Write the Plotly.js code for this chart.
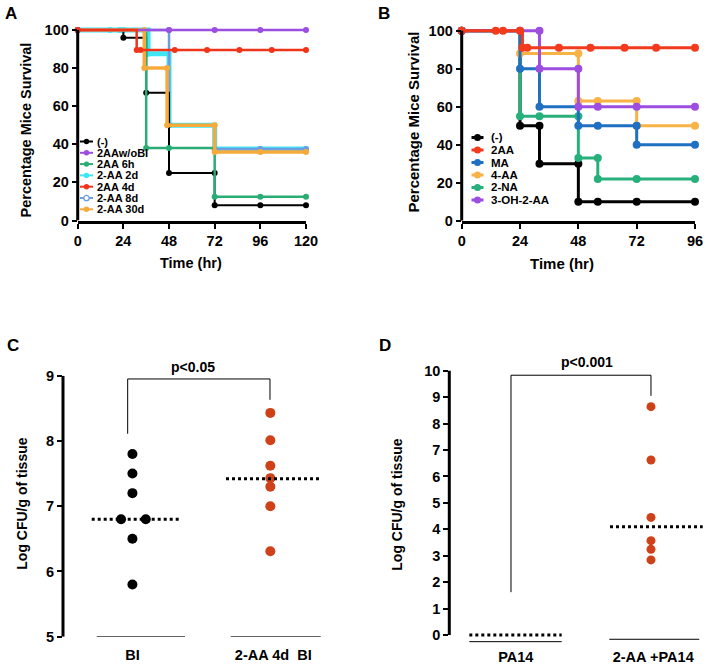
<!DOCTYPE html>
<html><head><meta charset="utf-8">
<script src="https://cdn.plot.ly/plotly-3.0.1.min.js"></script>
<style>html,body{margin:0;padding:0;background:#fff}#chart{width:709px;height:665px}</style>
</head><body><div id="chart"></div>
<script>
// ---------------- DATA ----------------
// Panel A: survival (%) vs time (hr)
const A_names = ['(-)', '2AAw/oBI', '2AA 6h', '2-AA 2d', '2AA 4d', '2-AA 8d', '2-AA 30d'];
const A_neg_t   = [0, 24, 36, 48, 72, 72, 96, 120];
const A_neg_y   = [100, 96, 67, 25, 25, 8, 8, 8];
const A_woBI_t  = [0, 48, 72, 96, 120];
const A_woBI_y  = [100, 100, 100, 100, 100];
const A_6h_t    = [0, 36, 48, 72, 96, 120];
const A_6h_y    = [100, 38, 38, 12.5, 12.5, 12.5];
const A_2d_t    = [0, 17, 22, 24, 37, 48, 72, 96, 120];
const A_2d_y    = [100, 100, 100, 100, 87.5, 50, 37.5, 37.5, 37.5];
const A_4d_t    = [0, 31, 33, 51, 68, 85, 102, 120];
const A_4d_y    = [100, 89.5, 89.5, 89.5, 89.5, 89.5, 89.5, 89.5];
const A_8d_t    = [0, 48, 48, 72, 96, 120];
const A_8d_y    = [100, 100, 50, 37.5, 37.5, 37.5];
const A_30d_t   = [0, 35, 35, 47, 47, 72, 72, 96, 120];
const A_30d_y   = [100, 100, 80, 80, 50, 50, 36, 36, 36];
const A_ticks_x = [0, 24, 48, 72, 96, 120];
const A_ticks_y = [0, 20, 40, 60, 80, 100];

// Panel B: survival (%) vs time (hr)
const B_names = ['(-)', '2AA', 'MA', '4-AA', '2-NA', '3-OH-2-AA'];
const B_neg_t  = [0, 24, 32, 32, 48, 48, 56, 72, 96];
const B_neg_y  = [100, 50, 50, 30, 30, 10, 10, 10, 10];
const B_2AA_t  = [0, 14, 17, 24, 25, 27, 40, 53, 67, 80, 96];
const B_2AA_y  = [100, 100, 100, 100, 91, 91, 91, 91, 91, 91, 91];
const B_MA_t   = [0, 24, 32, 48, 56, 72, 72, 96];
const B_MA_y   = [100, 80, 60, 50, 50, 50, 40, 40];
const B_4AA_t  = [0, 24, 48, 48, 56, 72, 72, 96];
const B_4AA_y  = [100, 88, 88, 63, 63, 63, 50, 50];
const B_2NA_t  = [0, 24, 32, 48, 48, 56, 56, 72, 96];
const B_2NA_y  = [100, 55, 55, 55, 33, 33, 22, 22, 22];
const B_3OH_t  = [0, 24, 32, 32, 48, 48, 56, 72, 96];
const B_3OH_y  = [100, 100, 100, 80, 80, 60, 60, 60, 60];
const B_ticks_x = [0, 24, 48, 72, 96];
const B_ticks_y = [0, 20, 40, 60, 80, 100];

// Panel C: Log CFU/g of tissue
const C_groups = ['BI', '2-AA 4d\u00a0 BI'];
const C_BI_vals = [7.8, 7.5, 7.2, 6.8, 6.8, 6.5, 5.8];
const C_BI_jitter = [0, 0, 0, -0.17, 0.2, 0, 0];
const C_AA_vals = [8.43, 8.01, 7.62, 7.43, 7.3, 7.0, 6.31];
const C_medians = [6.8, 7.42];
const C_ticks_y = [5, 6, 7, 8, 9];
const C_pval = 'p&lt;0.05';

// Panel D: Log CFU/g of tissue
const D_groups = ['PA14', '2-AA +PA14'];
const D_AA_vals = [8.64, 6.62, 4.45, 3.57, 3.24, 2.84];
const D_medians = [0, 4.1];
const D_ticks_y = [0, 1, 2, 3, 4, 5, 6, 7, 8, 9, 10];
const D_pval = 'p&lt;0.001';

// ---------------- HELPERS ----------------
const W = 709, H = 665;
const PX = x => x / W;
const PY = y => 1 - y / H;
const FAM = 'Liberation Sans, Arial, Helvetica, sans-serif';
const bold = (size, color) => ({family: FAM, size: size, color: color || '#000', weight: 'bold'});

const traces = [];
const shapes = [];
const annotations = [];

function stepTrace(t, y, color, lw, ms, xa, ya) {
  return {x: t, y: y, type: 'scatter', mode: 'lines+markers', xaxis: xa, yaxis: ya,
    line: {shape: 'hv', color: color, width: lw}, marker: {color: color, size: ms},
    cliponaxis: false, showlegend: false, hoverinfo: 'skip'};
}

// ---------------- PANEL A ----------------
const A_series = [
  {t: A_neg_t, y: A_neg_y, c: '#000000', lw: 2, ms: 6},
  {t: A_woBI_t, y: A_woBI_y, c: '#9b4ee0', lw: 2.5, ms: 6},
  {t: A_6h_t, y: A_6h_y, c: '#2aad74', lw: 2.5, ms: 6},
  {t: A_2d_t, y: A_2d_y, c: '#3fe6f6', lw: 5, ms: 6},
  {t: A_4d_t, y: A_4d_y, c: '#f0341a', lw: 2.5, ms: 6},
  {t: A_8d_t, y: A_8d_y, c: '#6d9de0', lw: 2.5, ms: 6},
  {t: A_30d_t, y: A_30d_y, c: '#f6aa3c', lw: 3.5, ms: 6}
];
const A_order = [3, 5, 0, 2, 6, 1, 4];
A_order.forEach(i => { const s = A_series[i]; traces.push(stepTrace(s.t, s.y, s.c, s.lw, s.ms, 'x', 'y')); });

// Panel A legend (drawn manually, tight spacing as in the original)
A_names.forEach((nm, i) => {
  const yy = 141.5 + i * 11.3;
  const s = A_series[i];
  shapes.push({type: 'line', xref: 'paper', yref: 'paper', x0: PX(80), x1: PX(93), y0: PY(yy), y1: PY(yy),
    line: {color: s.c, width: 2}});
  const open = (i === 5);
  shapes.push({type: 'circle', xref: 'paper', yref: 'paper', xsizemode: 'pixel', ysizemode: 'pixel',
    xanchor: PX(86.5), yanchor: PY(yy), x0: -2.7, x1: 2.7, y0: -2.7, y1: 2.7,
    fillcolor: open ? '#ffffff' : s.c, line: {color: s.c, width: open ? 1.3 : 0}});
  annotations.push({xref: 'paper', yref: 'paper', x: PX(95), y: PY(yy), xanchor: 'left', yanchor: 'middle',
    text: nm, showarrow: false, font: bold(11)});
});

// ---------------- PANEL B ----------------
const B_series = [
  {t: B_neg_t, y: B_neg_y, c: '#000000'},
  {t: B_2AA_t, y: B_2AA_y, c: '#f23a1c'},
  {t: B_MA_t, y: B_MA_y, c: '#1f70c1'},
  {t: B_4AA_t, y: B_4AA_y, c: '#f8b246'},
  {t: B_2NA_t, y: B_2NA_y, c: '#27b07c'},
  {t: B_3OH_t, y: B_3OH_y, c: '#9d4de0'}
];
const B_order = [0, 4, 3, 2, 5, 1];
B_order.forEach(i => { const s = B_series[i]; traces.push(stepTrace(s.t, s.y, s.c, 3, 8, 'x2', 'y2')); });

B_names.forEach((nm, i) => {
  const yy = 137.5 + i * 12.5;
  const s = B_series[i];
  shapes.push({type: 'line', xref: 'paper', yref: 'paper', x0: PX(471.5), x1: PX(483.5), y0: PY(yy), y1: PY(yy),
    line: {color: s.c, width: 3}});
  shapes.push({type: 'circle', xref: 'paper', yref: 'paper', xsizemode: 'pixel', ysizemode: 'pixel',
    xanchor: PX(477.5), yanchor: PY(yy), x0: -3.5, x1: 3.5, y0: -3.5, y1: 3.5,
    fillcolor: s.c, line: {width: 0}});
  annotations.push({xref: 'paper', yref: 'paper', x: PX(489), y: PY(yy), xanchor: 'left', yanchor: 'middle',
    text: nm, showarrow: false, font: bold(11.5)});
});

// ---------------- PANEL C ----------------
const C_pos = [1.04, 3.106];
traces.push({x: C_BI_vals.map((v, i) => C_pos[0] + C_BI_jitter[i]), y: C_BI_vals, type: 'scatter', mode: 'markers',
  xaxis: 'x3', yaxis: 'y3', marker: {color: '#000000', size: 10}, cliponaxis: false, showlegend: false, hoverinfo: 'skip'});
traces.push({x: C_AA_vals.map(() => C_pos[1]), y: C_AA_vals, type: 'scatter', mode: 'markers',
  xaxis: 'x3', yaxis: 'y3', marker: {color: '#cf4219', size: 10}, cliponaxis: false, showlegend: false, hoverinfo: 'skip'});
const C_medSpan = [[0.43, 1.753], [2.442, 3.84]];
C_medians.forEach((m, i) => {
  traces.push({x: C_medSpan[i], y: [m, m], type: 'scatter', mode: 'lines', xaxis: 'x3', yaxis: 'y3',
    line: {color: '#000', width: 3, dash: 'dot'}, showlegend: false, hoverinfo: 'skip'});
});
// underlines below groups
[[0.505, 1.828], [2.512, 3.861]].forEach(s => shapes.push({type: 'line', xref: 'x3', yref: 'y3',
  x0: s[0], x1: s[1], y0: 5.0, y1: 5.0, line: {color: '#000', width: 1}}));
// significance bracket
shapes.push({type: 'path', xref: 'x3', yref: 'y3', path: 'M 0.969,8.11 L 0.969,8.95 L 3.101,8.95 L 3.101,8.63',
  line: {color: '#000', width: 1}});
annotations.push({xref: 'x3', yref: 'paper', x: 1.943, y: PY(367.3), yanchor: 'middle', text: C_pval, showarrow: false, font: bold(14)});
// y spine
shapes.push({type: 'line', xref: 'paper', yref: 'y3', x0: PX(63), x1: PX(63), y0: 5, y1: 9, line: {color: '#000', width: 3}});

// ---------------- PANEL D ----------------
const D_pos = 3.155;
traces.push({x: D_AA_vals.map(() => D_pos), y: D_AA_vals, type: 'scatter', mode: 'markers',
  xaxis: 'x4', yaxis: 'y4', marker: {color: '#cf4219', size: 9}, cliponaxis: false, showlegend: false, hoverinfo: 'skip'});
const D_medSpan = [[0.313, 1.758], [2.514, 3.964]];
D_medians.forEach((m, i) => {
  traces.push({x: D_medSpan[i], y: [m, m], type: 'scatter', mode: 'lines', xaxis: 'x4', yaxis: 'y4',
    line: {color: '#000', width: 3, dash: 'dot'}, showlegend: false, hoverinfo: 'skip'});
});
shapes.push({type: 'line', xref: 'x4', yref: 'y4', x0: 0.313, x1: 1.758, y0: -0.253, y1: -0.253, line: {color: '#000', width: 1}});
shapes.push({type: 'line', xref: 'x4', yref: 'y4', x0: 2.503, x1: 3.91, y0: -0.163, y1: -0.163, line: {color: '#000', width: 1}});
shapes.push({type: 'path', xref: 'x4', yref: 'y4', path: 'M 0.965,1.62 L 0.965,9.83 L 3.155,9.83 L 3.155,9.05',
  line: {color: '#000', width: 1}});
annotations.push({xref: 'x4', yref: 'paper', x: 2.159, y: PY(361.7), yanchor: 'middle', text: D_pval, showarrow: false, font: bold(14)});
shapes.push({type: 'line', xref: 'paper', yref: 'y4', x0: PX(449.3), x1: PX(449.3), y0: 0, y1: 10, line: {color: '#000', width: 3}});

// y spines for A and B
shapes.push({type: 'line', xref: 'paper', yref: 'y', x0: PX(77.7), x1: PX(77.7), y0: 0, y1: 100, line: {color: '#000', width: 3}});
shapes.push({type: 'line', xref: 'paper', yref: 'y2', x0: PX(461.7), x1: PX(461.7), y0: 0, y1: 100, line: {color: '#000', width: 3}});

// ---------------- TITLES / LABELS ----------------
function ann(x, y, text, size, angle) {
  annotations.push({xref: 'paper', yref: 'paper', x: PX(x), y: PY(y), xanchor: 'center', yanchor: 'middle',
    text: text, showarrow: false, font: bold(size), textangle: angle || 0});
}
ann(25, 130.5, 'Percentage Mice Survival', 14.5, -90);
ann(413, 122.5, 'Percentage Mice Survival', 15, -90);
ann(190.8, 263, 'Time (hr)', 14.5);
ann(562.3, 263.3, 'Time (hr)', 15);
ann(21.7, 504, 'Log CFU/g of tissue', 14, -90);
ann(396.7, 505, 'Log CFU/g of tissue', 14, -90);
ann(10.5, 13.5, 'A', 17);
ann(384.3, 13.5, 'B', 17);
ann(13.3, 345, 'C', 17);
ann(385, 345, 'D', 17);

// ---------------- AXES ----------------
const common = {showgrid: false, zeroline: false, ticks: 'outside', ticklen: 5, tickwidth: 2, tickcolor: '#000',
  tickfont: bold(14.5), fixedrange: true};

const layout = {
  width: W, height: H, margin: {l: 0, r: 0, t: 0, b: 0}, paper_bgcolor: '#fff', plot_bgcolor: 'rgba(0,0,0,0)',
  showlegend: false, font: {family: FAM},
  xaxis: Object.assign({}, common, {domain: [PX(77.7), PX(306)], range: [0, 120], tickvals: A_ticks_x,
    showline: true, linewidth: 3, linecolor: '#000', anchor: 'y'}),
  yaxis: Object.assign({}, common, {domain: [PY(220.5), PY(24.3)], range: [0, 103], tickvals: A_ticks_y,
    showline: false, anchor: 'x'}),
  xaxis2: Object.assign({}, common, {domain: [PX(461.7), PX(695)], range: [0, 96], tickvals: B_ticks_x,
    showline: true, linewidth: 3, linecolor: '#000', anchor: 'y2'}),
  yaxis2: Object.assign({}, common, {domain: [PY(220.7), PY(25)], range: [0, 103], tickvals: B_ticks_y,
    showline: false, anchor: 'x2'}),
  xaxis3: Object.assign({}, common, {domain: [PX(63), PX(330)], range: [0, 4], tickvals: [1.04, 3.15],
    ticktext: C_groups, ticklen: 5, tickcolor: 'rgba(0,0,0,0)', showline: false, anchor: 'y3'}),
  yaxis3: Object.assign({}, common, {domain: [PY(636.7), PY(375.7)], range: [5, 9], tickvals: C_ticks_y,
    showline: false, anchor: 'x3'}),
  xaxis4: Object.assign({}, common, {domain: [PX(449.3), PX(705)], range: [0, 4], tickvals: [1.04, 3.19],
    ticktext: D_groups, ticklen: 1, tickcolor: 'rgba(0,0,0,0)', showline: false, anchor: 'y4'}),
  yaxis4: Object.assign({}, common, {domain: [PY(642.9), PY(362.8)], range: [-0.3, 10.3], tickvals: D_ticks_y,
    showline: false, anchor: 'x4'}),
  shapes: shapes,
  annotations: annotations
};

Plotly.newPlot('chart', traces, layout, {displayModeBar: false, staticPlot: true});
</script>
</body></html>
